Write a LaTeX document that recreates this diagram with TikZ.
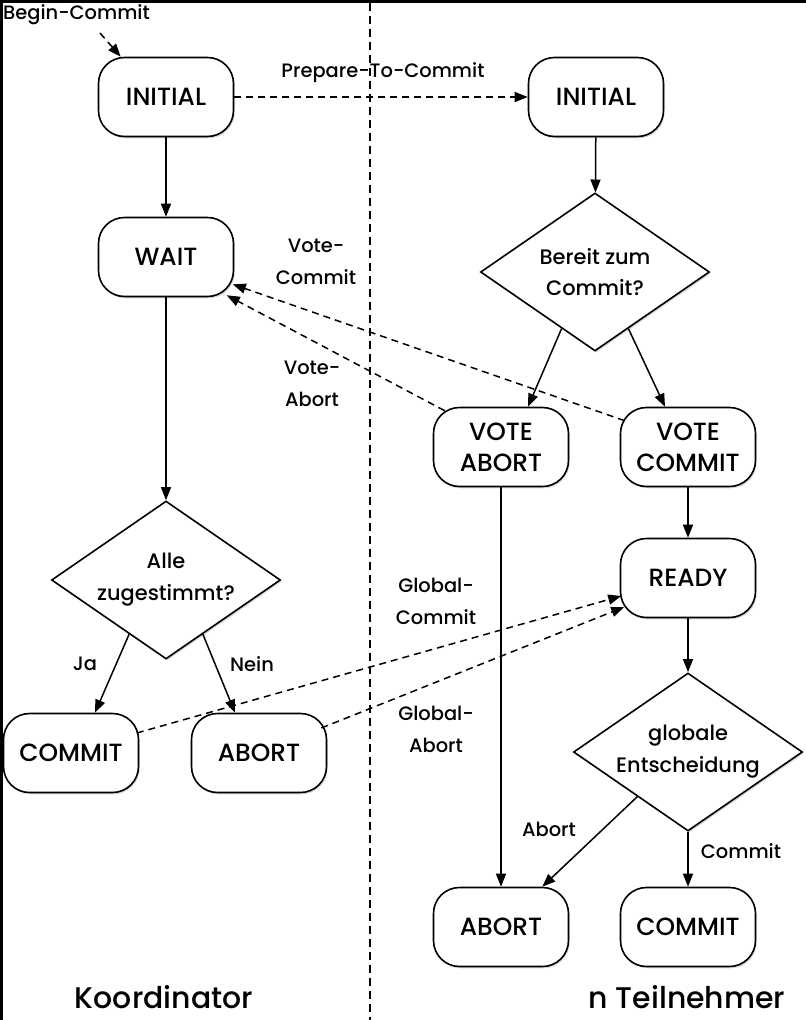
\documentclass[tikz,border=0pt]{standalone}
\usepackage{fontspec}
\setmainfont{Poppins}[UprightFont={* Medium}]
\usetikzlibrary{arrows.meta,shapes.geometric,shadows,calc}
\begin{document}
\begin{tikzpicture}[x=1bp,y=-1bp,
  state/.style={draw, line width=1.6bp, rounded corners=26bp, minimum width=135bp, minimum height=79bp,
     inner sep=0pt, align=center, fill=white, font=\fontsize{25}{31}\selectfont,
     drop shadow={shadow xshift=1.2bp, shadow yshift=-1.8bp, opacity=0.3}},
  decision/.style={draw, diamond, shape aspect=1.45, line width=1.6bp, minimum width=229bp, minimum height=158bp,
     inner sep=0pt, align=center, fill=white, font=\fontsize{21}{32}\selectfont,
     drop shadow={shadow xshift=1.2bp, shadow yshift=-1.8bp, opacity=0.3}},
  lbl/.style={align=center, font=\fontsize{19.5}{32}\selectfont, inner sep=0pt},
  title/.style={font=\fontsize{30}{34}\selectfont, inner sep=0pt},
  arr/.style={-{Triangle[length=13bp,width=10bp]}, line width=1.5bp},
  darr/.style={arr, dash pattern=on 7bp off 5bp},
]
\useasboundingbox (0,0) rectangle (806,1020);
\fill[white] (0,0) rectangle (806,1020);
\fill[black] (0,0) rectangle (806,2.5);
\fill[black] (0,0) rectangle (2.5,1020);

% separator
\coordinate (septop) at (370,2.5);
\coordinate (sepbot) at (370,1020);
\draw[line width=1.5bp, dash pattern=on 8bp off 5bp] (septop) -- (sepbot);

% coordinator
\node[state] (ci) at (166,97) {INITIAL};
\node[state] (cw) at (166,257) {WAIT};
\node[decision] (cd) at (166,580) {Alle\\zugestimmt?};
\node[state] (cc) at (71,753) {COMMIT};
\node[state] (ca) at (259,753) {ABORT};

% participant
\node[state] (pi) at (596,97) {INITIAL};
\node[decision] (pd) at (595,272) {Bereit zum\\Commit?};
\node[state] (pva) at (501,447) {VOTE\\ABORT};
\node[state] (pvc) at (688,447) {VOTE\\COMMIT};
\node[state] (pr) at (688,578) {READY};
\node[decision] (pg) at (688,752) {globale\\Entscheidung};
\node[state] (pa) at (501,927) {ABORT};
\node[state] (pc) at (688,927) {COMMIT};

% begin commit
\node[lbl, anchor=west] (bc) at (3,15) {Begin-Commit};
\coordinate (bcs) at (100,33);
\draw[darr] (bcs) -- ([xshift=23bp]ci.north west);

% prepare
\draw[darr] (ci.east) -- (pi.west);
\node[lbl] (ptc) at (383,73) {Prepare-To-Commit};

% coordinator flow
\draw[arr] (ci) -- (cw);
\draw[arr] (cw) -- (cd);
\draw[arr] ($(cd.south)!0.32!(cd.west)$) -- ([xshift=24bp]cc.north);
\draw[arr] ($(cd.south)!0.32!(cd.east)$) -- ([xshift=-24bp]ca.north);
\node[lbl] (ja) at (85,664) {Ja};
\node[lbl] (nein) at (252,664) {Nein};

% votes
\draw[darr] ([shift={(5,14)}]pvc.north west) -- ([shift={(-1.5,-13)}]cw.south east);
\draw[darr] ([shift={(12,4)}]pva.north west) -- ([shift={(-7.5,-2)}]cw.south east);
\node[lbl] (vc) at (316,262) {Vote-\\Commit};
\node[lbl] (va) at (312,384) {Vote-\\Abort};

% participant flow
\draw[arr] (pi) -- (pd);
\draw[arr] ($(pd.south)!0.29!(pd.west)$) -- ([xshift=27bp]pva.north);
\draw[arr] ($(pd.south)!0.29!(pd.east)$) -- ([xshift=-23bp]pvc.north);
\draw[arr] (pvc) -- (pr);
\draw[arr] (pr) -- (pg);
\draw[arr] (pva) -- (pa);
\draw[arr] ($(pg.south)!0.44!(pg.west)$) -- ([xshift=-27bp]pa.north east);
\draw[arr] (pg) -- (pc);
\node[lbl] (lab) at (549,829) {Abort};
\node[lbl] (lcm) at (741,851) {Commit};

% global decisions
\draw[darr] ([shift={(-2.5,-20)}]cc.east) -- ([shift={(1.5,18)}]pr.west);
\draw[darr] ([shift={(-6,-25)}]ca.east) -- ([shift={(4.5,29)}]pr.west);
\node[lbl] (gc) at (436,601) {Global-\\Commit};
\node[lbl] (ga) at (436,729) {Global-\\Abort};

% titles
\node[title] (tk) at (164,997) {Koordinator};
\node[title] (tt) at (687,997) {n Teilnehmer};
\end{tikzpicture}
\end{document}
